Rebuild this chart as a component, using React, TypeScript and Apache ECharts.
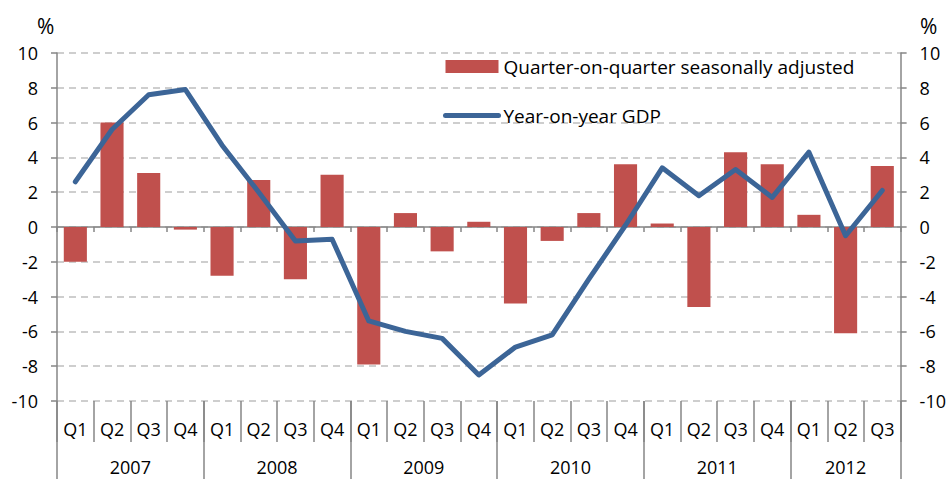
import React, { useEffect, useRef } from "react";
import * as echarts from "echarts";

const quarters = [
  "Q1", "Q2", "Q3", "Q4",
  "Q1", "Q2", "Q3", "Q4",
  "Q1", "Q2", "Q3", "Q4",
  "Q1", "Q2", "Q3", "Q4",
  "Q1", "Q2", "Q3", "Q4",
  "Q1", "Q2", "Q3",
];
const years = ["2007", "2008", "2009", "2010", "2011", "2012"];
const quartersPerYear = [4, 4, 4, 4, 4, 3];

const qoqSeasonallyAdjusted = [
  -2.0, 6.0, 3.1, -0.15,
  -2.8, 2.7, -3.0, 3.0,
  -7.9, 0.8, -1.4, 0.3,
  -4.4, -0.8, 0.8, 3.6,
  0.2, -4.6, 4.3, 3.6,
  0.7, -6.1, 3.5,
];
const yoyGdp = [
  2.6, 5.6, 7.6, 7.9,
  4.7, 2.0, -0.8, -0.7,
  -5.4, -6.0, -6.4, -8.5,
  -6.9, -6.2, -3.0, 0.1,
  3.4, 1.8, 3.3, 1.7,
  4.3, -0.5, 2.1,
];

const yTicks = { min: -10, max: 10, interval: 2 };

const FONT = "'Open Sans', sans-serif";
const AXIS_GRAY = "#868686";
const FS = 18;

export default function App() {
  const ref = useRef<HTMLDivElement>(null);

  useEffect(() => {
    if (!ref.current) return;
    const chart = echarts.init(ref.current, undefined, { renderer: "svg" });

    const boundaries: number[] = [0];
    const centres: number[] = [];
    quartersPerYear.forEach((n) => {
      const start = boundaries[boundaries.length - 1];
      centres.push(start + n / 2);
      boundaries.push(start + n);
    });
    const total = quarters.length;

    const yAxisCommon = {
      type: "value",
      min: yTicks.min,
      max: yTicks.max,
      interval: yTicks.interval,
      axisLine: { show: true, lineStyle: { color: AXIS_GRAY, width: 1.5 } },
      axisTick: { show: true, length: 6, lineStyle: { color: AXIS_GRAY, width: 1.5 } },
      axisLabel: { color: "#000", fontFamily: FONT, fontSize: FS, margin: 19 },
    };

    chart.setOption({
      animation: false,
      grid: { left: 57, right: 48, top: 53, bottom: 78, containLabel: false },
      legend: {
        orient: "vertical",
        left: 443,
        top: 57,
        padding: 0,
        itemWidth: 53,
        itemHeight: 13,
        itemGap: 30,
        textStyle: { fontFamily: FONT, fontSize: 19, color: "#000", padding: [0, 0, 0, 0] },
        data: [
          { name: "Quarter-on-quarter seasonally adjusted", icon: "rect" },
          {
            name: "Year-on-year GDP",
            itemStyle: { opacity: 0 },
            lineStyle: { width: 5, color: "#3C6597", cap: "round" },
          },
        ],
      },
      graphic: [
        { type: "text", left: 37, top: 15, style: { text: "%", font: `21px ${FONT}`, fill: "#000" } },
        { type: "text", left: 920, top: 15, style: { text: "%", font: `21px ${FONT}`, fill: "#000" } },
      ],
      xAxis: [
        {
          type: "category",
          data: quarters,
          position: "bottom",
          axisLine: { show: true, onZero: true, lineStyle: { color: AXIS_GRAY, width: 1.5 } },
          axisTick: { show: true, interval: 0, length: 5, lineStyle: { color: AXIS_GRAY, width: 1.5 } },
          axisLabel: { show: false },
          splitLine: { show: false },
        },
        {
          type: "category",
          data: quarters,
          position: "bottom",
          axisLine: { show: false, onZero: false },
          axisTick: { show: true, interval: 0, length: 41, lineStyle: { color: AXIS_GRAY, width: 1.5 } },
          axisLabel: { show: true, interval: 0, margin: 19, color: "#000", fontFamily: FONT, fontSize: FS },
          splitLine: { show: false },
        },
        {
          type: "value",
          min: 0,
          max: total,
          position: "bottom",
          axisLine: { show: false, onZero: false },
          axisTick: {
            show: true,
            customValues: boundaries,
            length: 78,
            lineStyle: { color: AXIS_GRAY, width: 1.5 },
          },
          axisLabel: {
            show: true,
            customValues: centres,
            margin: 57,
            color: "#000",
            fontFamily: FONT,
            fontSize: FS,
            formatter: (v: number) => {
              const i = centres.findIndex((c) => Math.abs(c - v) < 1e-6);
              return i >= 0 ? years[i] : "";
            },
          },
          splitLine: { show: false },
        },
      ],
      yAxis: [
        {
          ...yAxisCommon,
          position: "left",
          splitLine: { show: true, lineStyle: { color: "#BFBFBF", width: 1.5, type: [7, 5] } },
        },
        {
          ...yAxisCommon,
          position: "right",
          splitLine: { show: false },
        },
      ],
      series: [
        {
          name: "Quarter-on-quarter seasonally adjusted",
          type: "bar",
          xAxisIndex: 0,
          yAxisIndex: 0,
          data: qoqSeasonallyAdjusted,
          barCategoryGap: "37%",
          itemStyle: { color: "#C0504D" },
          z: 2,
        },
        {
          name: "Year-on-year GDP",
          type: "line",
          xAxisIndex: 0,
          yAxisIndex: 0,
          data: yoyGdp,
          symbol: "none",
          lineStyle: { color: "#3C6597", width: 5, cap: "round", join: "round" },
          itemStyle: { color: "#3C6597" },
          z: 3,
        },
      ],
    });

    return () => chart.dispose();
  }, []);

  return <div ref={ref} style={{ width: 949, height: 479, position: "absolute", left: 0, top: 0 }} />;
}
